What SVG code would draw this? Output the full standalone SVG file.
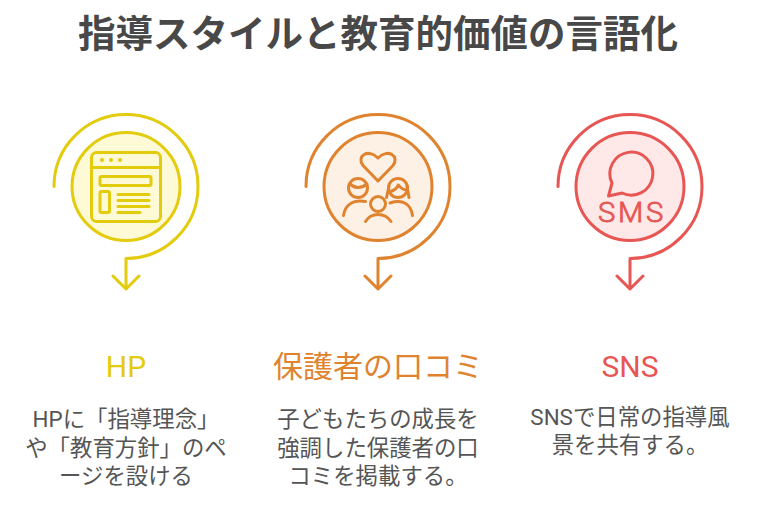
<svg xmlns="http://www.w3.org/2000/svg" width="775" height="529" viewBox="0 0 775 529">
<defs><style>
text{font-family:"Roboto","Noto Sans CJK JP",sans-serif;text-anchor:middle}
.title{font-size:37.500px;font-weight:700;fill:#484848}
.head{font-size:30px}
.body{font-size:22.400px;fill:#555}
.ln{fill:none;stroke-width:3;stroke-linecap:round;stroke-linejoin:round}
.y{stroke:#e3cb0d}.o{stroke:#e0832f}.r{stroke:#e85654}
</style></defs>
<rect width="775" height="529" fill="#fff"/>
<text class="title" x="378" y="47">指導スタイルと教育的価値の言語化</text>
<g id="connectors">
<path class="ln y" d="M54 186.500A72 72 0 1 1 126 258.500V289M113 276L126 289L139 276"/>
<path class="ln o" d="M306 186.500A72 72 0 1 1 378 258.500V289M365 276L378 289L391 276"/>
<path class="ln r" d="M558 186.500A72 72 0 1 1 630 258.500V289M617 276L630 289L643 276"/>
</g>
<g id="node-hp">
<circle class="ln y" cx="126" cy="186.500" r="54" style="fill:#fffad6"/>
<rect class="ln y" x="91.500" y="152.500" width="69" height="69" rx="5"/>
<path class="ln y" d="M91.500 167.500H160.500M118 194.500H149M118 200.500H149M118 206.500H149M118 212.500H140"/>
<circle cx="102" cy="160" r="2" fill="#e3cb0d"/><circle cx="111" cy="160" r="2" fill="#e3cb0d"/><circle cx="120" cy="160" r="2" fill="#e3cb0d"/>
<rect class="ln y" x="100" y="176.500" width="51" height="9" rx="1.500"/>
<rect class="ln y" x="100" y="191.500" width="9.500" height="21" rx="1.500"/>
<text class="head" x="126" y="377" fill="#e3cb0d">HP</text>
<text class="body" x="126" y="427">HPに「指導理念」</text>
<text class="body" x="126" y="456">や「教育方針」のペ</text>
<text class="body" x="126" y="484">ージを設ける</text>
</g>
<g id="node-reviews">
<circle class="ln o" cx="378" cy="186.500" r="54" style="fill:#fdf0e4"/>
<path class="ln o" d="M378 181L363 165.500C356 156 368 148 378 158C388 148 400 156 393 165.500Z"/>
<circle class="ln o" cx="358" cy="188" r="9.500"/>
<path class="ln o" d="M350 184Q358 191 367 184M343.500 215.500C345 205 353 199 365.500 201.500"/>
<circle class="ln o" cx="398" cy="188" r="9.500"/>
<path class="ln o" d="M390.500 191.500Q396 190 398.500 185Q402 190 407 190M386.500 197.500L389 186M409 197.500L407 186M390 203C403 199 411 204 412.500 215.500"/>
<circle class="ln o" cx="378" cy="204" r="7.500"/>
<path class="ln o" d="M365.500 221.500C371 212 385 212 391 221.500"/>
<text class="head" x="378" y="377" fill="#e0832f">保護者の口コミ</text>
<text class="body" x="378" y="427">子どもたちの成長を</text>
<text class="body" x="378" y="456">強調した保護者の口</text>
<text class="body" x="378" y="484">コミを掲載する。</text>
</g>
<g id="node-sns">
<circle class="ln r" cx="630" cy="186.500" r="54" style="fill:#ffe9e8"/>
<path class="ln r" d="M608.500 196L612 183A21.500 21.500 0 1 1 622 193Z"/>
<text x="598" y="222" font-size="27" letter-spacing="2.500" textLength="68" lengthAdjust="spacingAndGlyphs" style="text-anchor:start;font-weight:300;fill:#e85654;stroke:#e85654;stroke-width:.8">SMS</text>
<text class="head" x="630" y="377" fill="#e85654">SNS</text>
<text class="body" x="630" y="425">SNSで日常の指導風</text>
<text class="body" x="630" y="453">景を共有する。</text>
</g>
</svg>
